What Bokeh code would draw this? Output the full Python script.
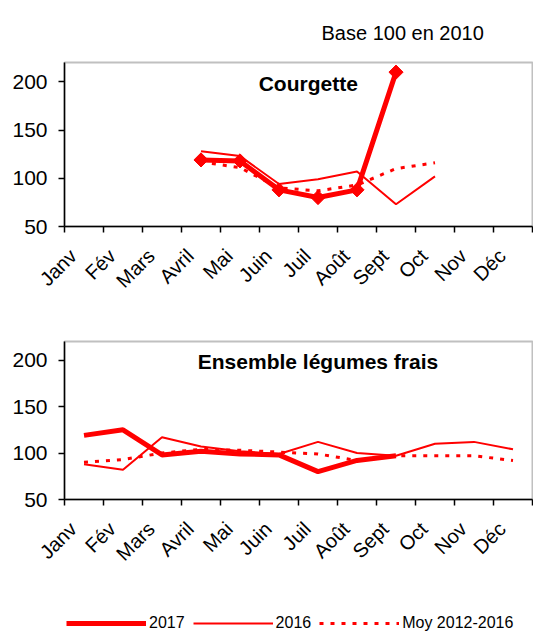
import math
from bokeh.plotting import figure
from bokeh.layouts import column
from bokeh.models import (FixedTicker, Label, Legend, LegendItem, Range1d)
from bokeh.embed import file_html
from bokeh.resources import INLINE

nan = float("nan")

months = ["Janv", "Fév", "Mars", "Avril", "Mai", "Juin", "Juil", "Août",
          "Sept", "Oct", "Nov", "Déc"]

# Courgette (base 100 en 2010)
courgette_2017 = [nan, nan, nan, 119, 118, 88, 80, 88, 210, nan, nan, nan]
courgette_2016 = [nan, nan, nan, 128, 123, 94, 99, 107, 73, 102, nan, nan]
courgette_moy = [nan, nan, nan, 117, 111, 90, 87, 93, 110, 116, nan, nan]

# Ensemble légumes frais
legumes_2017 = [119, 125, 98, 102, 99, 98, 80, 92, 97, nan, nan, nan]
legumes_2016 = [88, 82, 117, 107, 102, 99, 112, 100, 97, 110, 112, 104]
legumes_moy = [90, 93, 100, 104, 103, 101, 99, 92, 97, 97, 97, 92]

y_ticks = [50, 100, 150, 200]

RED = "#ff0000"
FONT = "Liberation Sans"
xs = list(range(len(months)))
LABEL_SHIFT = 0.28  # rotated labels sit slightly left of the category centre
label_pos = [i - LABEL_SHIFT for i in xs]


def make_chart(height, border_top, border_bottom, border_left, title, title_y,
               title_x, s2017, s2016, smoy, markers):
    p = figure(width=533, height=height, output_backend="svg",
               toolbar_location=None, x_range=Range1d(-0.5, 11.5),
               y_range=Range1d(50, 220))
    p.min_border_top = border_top
    p.min_border_bottom = border_bottom
    p.min_border_left = border_left
    p.min_border_right = 1
    p.xgrid.visible = False
    p.ygrid.visible = False
    p.outline_line_color = "#c0c0c0"
    p.outline_line_width = 2
    p.background_fill_color = "white"
    p.border_fill_color = "white"

    xa = p.xaxis[0]
    xa.ticker = FixedTicker(ticks=label_pos,
                            minor_ticks=[i - 0.5 for i in range(13)])
    xa.major_label_overrides = {pos: m for pos, m in zip(label_pos, months)}
    xa.major_tick_line_color = None
    xa.minor_tick_line_color = "black"
    xa.minor_tick_line_width = 1.5
    xa.minor_tick_out = 6
    xa.minor_tick_in = 0
    xa.axis_line_color = "black"
    xa.axis_line_width = 1.5
    xa.major_label_orientation = math.pi / 4
    xa.major_label_text_font = FONT
    xa.major_label_text_font_size = "20px"
    xa.major_label_text_color = "black"
    xa.major_label_standoff = 20

    ya = p.yaxis[0]
    ya.ticker = FixedTicker(ticks=y_ticks)
    ya.minor_tick_line_color = None
    ya.major_tick_out = 6
    ya.major_tick_in = 0
    ya.major_tick_line_color = "black"
    ya.major_tick_line_width = 1.5
    ya.axis_line_color = "black"
    ya.axis_line_width = 1.5
    ya.major_label_text_font = FONT
    ya.major_label_text_font_size = "21px"
    ya.major_label_text_color = "black"
    ya.major_label_standoff = 11

    p.line(xs, smoy, line_color=RED, line_width=3, line_dash="4 7")
    p.line(xs, s2016, line_color=RED, line_width=2)
    p.line(xs, s2017, line_color=RED, line_width=5)
    if markers:
        p.scatter(xs, s2017, marker="square", angle=math.pi / 4, size=10,
                  fill_color=RED, line_color=RED)

    p.add_layout(Label(x=title_x, y=title_y, text=title, text_align="center",
                       text_baseline="middle", text_font=FONT,
                       text_font_size="21px", text_font_style="bold",
                       text_color="black"))
    return p


p1 = make_chart(305, 61, 79, 62, "Courgette", 198, 5.75,
                courgette_2017, courgette_2016, courgette_moy, True)
p1.title.text = "Base 100 en 2010"
p1.title.align = "left"
p1.title.offset = 257
p1.title.standoff = 38
p1.title.text_font = FONT
p1.title.text_font_size = "20px"
p1.title.text_font_style = "normal"
p1.title.text_color = "black"

p2 = make_chart(288, 36, 94, 64, "Ensemble légumes frais", 199, 6.0,
                legumes_2017, legumes_2016, legumes_moy, False)

# Legend figure
p3 = figure(width=533, height=40, output_backend="svg", toolbar_location=None,
            x_range=Range1d(0, 1), y_range=Range1d(0, 1))
p3.min_border = 0
p3.axis.visible = False
p3.grid.visible = False
p3.outline_line_color = None
r17 = p3.line([nan], [nan], line_color=RED, line_width=5)
r16 = p3.line([nan], [nan], line_color=RED, line_width=2)
rmo = p3.line([nan], [nan], line_color=RED, line_width=3, line_dash="4 7")
leg = Legend(items=[LegendItem(label="2017", renderers=[r17]),
                    LegendItem(label="2016", renderers=[r16]),
                    LegendItem(label="Moy 2012-2016", renderers=[rmo])],
             orientation="horizontal", location=(2, 0), glyph_width=80,
             glyph_height=20, label_standoff=3, spacing=8, padding=0,
             margin=0, border_line_color=None, background_fill_alpha=0,
             label_text_font=FONT, label_text_font_size="16px",
             label_text_color="black", label_height=20, label_width=0)
p3.add_layout(leg)

layout = column(p1, p2, p3, spacing=0)
open("out.html", "w").write(file_html(layout, INLINE))
